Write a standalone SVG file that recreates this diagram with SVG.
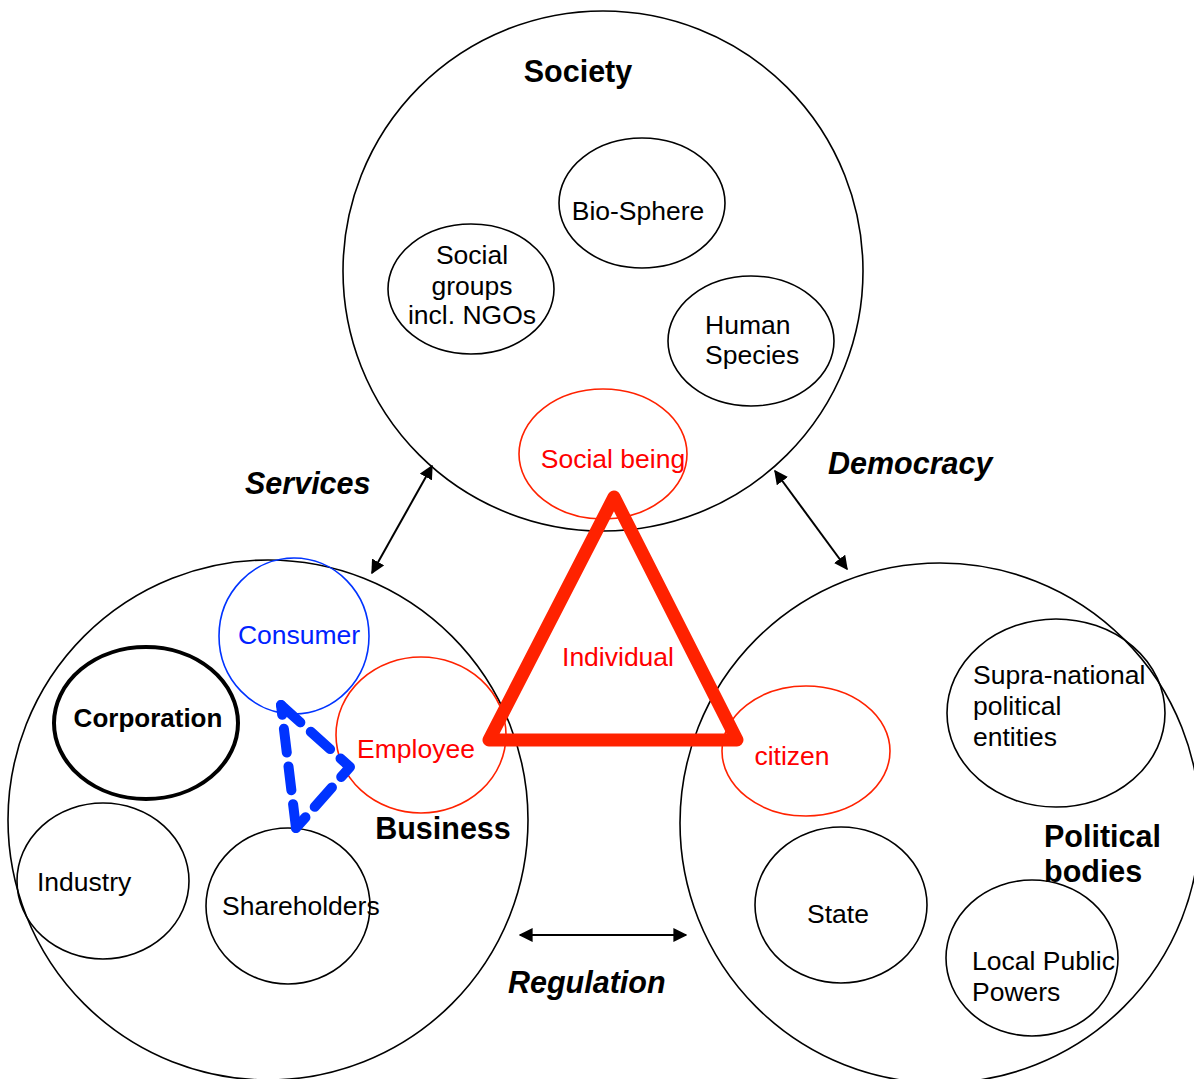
<svg xmlns="http://www.w3.org/2000/svg" width="1194" height="1079" viewBox="0 0 1194 1079">
<defs>
<style>
.c{fill:none;stroke:#000;stroke-width:1.6}
.r{fill:none;stroke:#ff2200;stroke-width:1.6}
.b{fill:none;stroke:#0033ff;stroke-width:1.6}
text{font-family:"Liberation Sans",Arial,sans-serif;font-size:26.5px;fill:#000}
.m{text-anchor:middle}
.bold{font-weight:bold}
.big{font-size:30.5px;font-weight:bold}
.bi{font-size:30.5px;font-weight:bold;font-style:italic}
.red{fill:#ff0000}
.blue{fill:#0022ff}
.arr{stroke:#000;stroke-width:2;fill:none;marker-start:url(#ah);marker-end:url(#ah)}
</style>
<marker id="ah" viewBox="0 0 10 10" refX="9" refY="5" markerWidth="7" markerHeight="7" orient="auto-start-reverse" markerUnits="strokeWidth">
<path d="M0,0 L10,5 L0,10 z" fill="#000"/>
</marker>
</defs>
<rect width="1194" height="1079" fill="#fff"/>

<g id="society">
<circle class="c" cx="603" cy="271" r="260"/>
<text class="big m" x="578" y="82">Society</text>
</g>
<g id="business">
<circle class="c" cx="268" cy="820" r="260"/>
<text class="big m" x="443" y="839">Business</text>
</g>
<g id="political">
<circle class="c" cx="940" cy="823" r="260"/>
<text class="big" x="1044" y="847">Political</text>
<text class="big" x="1044" y="882">bodies</text>
</g>

<g id="biosphere">
<ellipse class="c" cx="642" cy="203" rx="83" ry="65"/>
<text class="m" x="638" y="220">Bio-Sphere</text>
</g>
<g id="socialgroups">
<ellipse class="c" cx="471" cy="289" rx="83" ry="65"/>
<text class="m" x="472" y="264">Social</text>
<text class="m" x="472" y="295">groups</text>
<text class="m" x="472" y="324">incl. NGOs</text>
</g>
<g id="human">
<ellipse class="c" cx="751" cy="341" rx="83" ry="65"/>
<text x="705" y="334">Human</text>
<text x="705" y="364">Species</text>
</g>
<g id="socialbeing">
<ellipse class="r" cx="603" cy="454" rx="84" ry="65"/>
<text class="m red" x="613" y="468">Social being</text>
</g>

<g id="corporation">
<ellipse cx="146" cy="723" rx="92" ry="76" fill="none" stroke="#000" stroke-width="4"/>
<text class="m bold" x="148" y="727" style="font-size:26px">Corporation</text>
</g>
<g id="industry">
<ellipse class="c" cx="103" cy="881" rx="86" ry="78"/>
<text x="37" y="891">Industry</text>
</g>
<g id="shareholders">
<ellipse class="c" cx="288" cy="906" rx="82" ry="78"/>
<text x="222" y="915">Shareholders</text>
</g>
<g id="consumer">
<ellipse class="b" cx="294" cy="636" rx="75" ry="78"/>
<text class="m blue" x="299" y="644">Consumer</text>
</g>
<g id="employee">
<ellipse class="r" cx="421" cy="735" rx="85" ry="78"/>
<text class="m red" x="416" y="758">Employee</text>
</g>

<g id="citizen">
<ellipse class="r" cx="806" cy="751" rx="84" ry="65"/>
<text class="m red" x="792" y="765">citizen</text>
</g>
<g id="supranational">
<ellipse class="c" cx="1056" cy="713" rx="109" ry="94"/>
<text x="973" y="684">Supra-national</text>
<text x="973" y="715">political</text>
<text x="973" y="746">entities</text>
</g>
<g id="state">
<ellipse class="c" cx="841" cy="905" rx="86" ry="78"/>
<text class="m" x="838" y="923">State</text>
</g>
<g id="localpublic">
<ellipse class="c" cx="1032" cy="958" rx="86" ry="78"/>
<text x="972" y="970">Local Public</text>
<text x="972" y="1001">Powers</text>
</g>

<g id="individual">
<polygon points="614,497 489,740 737,740" fill="none" stroke="#ff2200" stroke-width="13" stroke-linejoin="round"/>
<text class="m red" x="618" y="666">Individual</text>
</g>

<g id="connectors">
<line class="arr" x1="432" y1="466" x2="372" y2="573"/>
<line class="arr" x1="775" y1="471" x2="847" y2="569"/>
<line class="arr" x1="520" y1="935" x2="686" y2="935"/>
<g fill="none" stroke="#0033ff" stroke-width="10" stroke-linecap="round" stroke-linejoin="round">
<polyline points="296,828 281,705" stroke-dasharray="24,14"/>
<polyline points="281,705 350,767 296,828" stroke-dasharray="26,14"/>
</g>
<text class="bi" x="245" y="494">Services</text>
<text class="bi" x="828" y="474">Democracy</text>
<text class="bi" x="508" y="993">Regulation</text>
</g>
</svg>
